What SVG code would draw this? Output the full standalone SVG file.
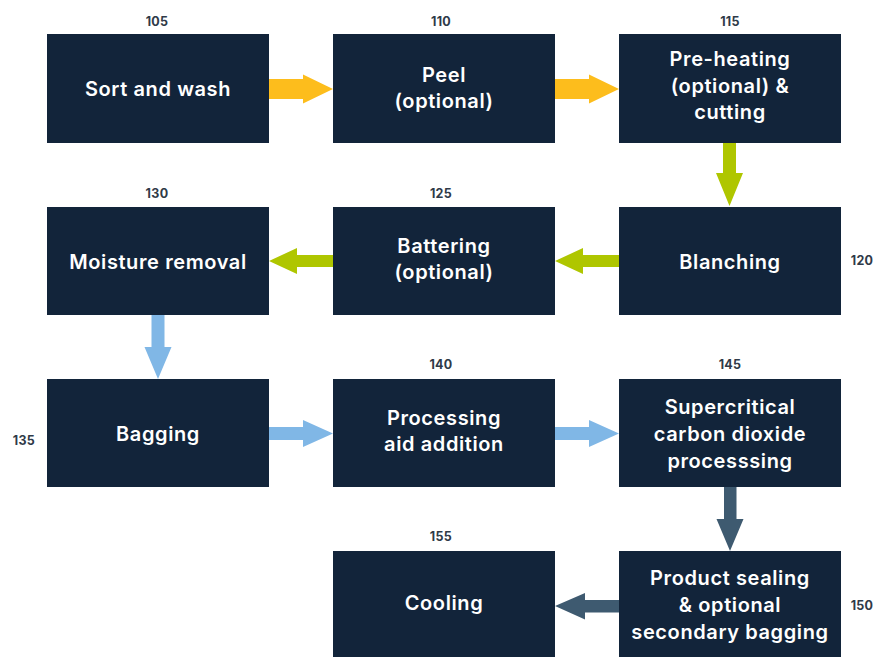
<svg xmlns="http://www.w3.org/2000/svg" width="875" height="657" viewBox="0 0 875 657">
<style>
.box{fill:#12243a}
.t{font-family:Inter,"Noto Sans",sans-serif;font-weight:600;font-size:20px;letter-spacing:0.6px;fill:#ffffff;text-anchor:middle;dominant-baseline:central}
.n{font-family:Inter,"Noto Sans",sans-serif;font-weight:700;font-size:12.5px;letter-spacing:0.3px;fill:#2f3a48;text-anchor:middle;dominant-baseline:central}
.y{fill:#fdbd1c}.g{fill:#afc600}.b{fill:#80b7e6}.d{fill:#3e5a70}
</style>
<rect width="875" height="657" fill="#ffffff"/>
<g id="connectors">
<polygon class="y" points="269,79 303,79 303,74.5 333,89 303,103.5 303,99 269,99"/>
<polygon class="y" points="555,79 589,79 589,74.5 619,89 589,103.5 589,99 555,99"/>
<polygon class="g" points="723,143 736,143 736,173 743,173 729.5,206 716,173 723,173"/>
<polygon class="g" points="619,255 583,255 583,248 555,261 583,274 583,267 619,267"/>
<polygon class="g" points="333,255 297,255 297,248 269,261 297,274 297,267 333,267"/>
<polygon class="b" points="151.5,315 164.5,315 164.5,347 171.5,347 158,379 144.5,347 151.5,347"/>
<polygon class="b" points="269,427 303,427 303,420 333,433.5 303,447 303,440 269,440"/>
<polygon class="b" points="555,427 589,427 589,420 619,433.5 589,447 589,440 555,440"/>
<polygon class="d" points="724,487 736.5,487 736.5,519 743.5,519 730,551 716.5,519 724,519"/>
<polygon class="d" points="619,600 585,600 585,593 555,606 585,619.5 585,612.5 619,612.5"/>
</g>
<g id="n105"><rect class="box" x="47" y="34" width="222" height="109"/><text class="t" x="158" y="89">Sort and wash</text><text class="n" x="157" y="21">105</text></g>
<g id="n110"><rect class="box" x="333" y="34" width="222" height="109"/><text class="t" x="444" y="75">Peel</text><text class="t" x="444" y="101">(optional)</text><text class="n" x="441" y="21">110</text></g>
<g id="n115"><rect class="box" x="619" y="34" width="222" height="109"/><text class="t" x="730" y="59">Pre-heating</text><text class="t" x="730" y="86">(optional) &amp;</text><text class="t" x="730" y="112">cutting</text><text class="n" x="730" y="21">115</text></g>
<g id="n120"><rect class="box" x="619" y="207" width="222" height="108"/><text class="t" x="730" y="262">Blanching</text><text class="n" x="862" y="260">120</text></g>
<g id="n125"><rect class="box" x="333" y="207" width="222" height="108"/><text class="t" x="444" y="246">Battering</text><text class="t" x="444" y="272">(optional)</text><text class="n" x="441" y="193">125</text></g>
<g id="n130"><rect class="box" x="47" y="207" width="222" height="108"/><text class="t" x="158" y="262">Moisture removal</text><text class="n" x="157" y="193">130</text></g>
<g id="n135"><rect class="box" x="47" y="379" width="222" height="108"/><text class="t" x="158" y="434">Bagging</text><text class="n" x="24" y="440">135</text></g>
<g id="n140"><rect class="box" x="333" y="379" width="222" height="108"/><text class="t" x="444" y="418">Processing</text><text class="t" x="444" y="444">aid addition</text><text class="n" x="441" y="364">140</text></g>
<g id="n145"><rect class="box" x="619" y="379" width="222" height="108"/><text class="t" x="730" y="407">Supercritical</text><text class="t" x="730" y="434">carbon dioxide</text><text class="t" x="730" y="461">processsing</text><text class="n" x="730" y="364">145</text></g>
<g id="n150"><rect class="box" x="619" y="551" width="222" height="108"/><text class="t" x="730" y="578">Product sealing</text><text class="t" x="730" y="605">&amp; optional</text><text class="t" x="730" y="632">secondary bagging</text><text class="n" x="862" y="605">150</text></g>
<g id="n155"><rect class="box" x="333" y="551" width="222" height="108"/><text class="t" x="444" y="603">Cooling</text><text class="n" x="441" y="536">155</text></g>
</svg>
